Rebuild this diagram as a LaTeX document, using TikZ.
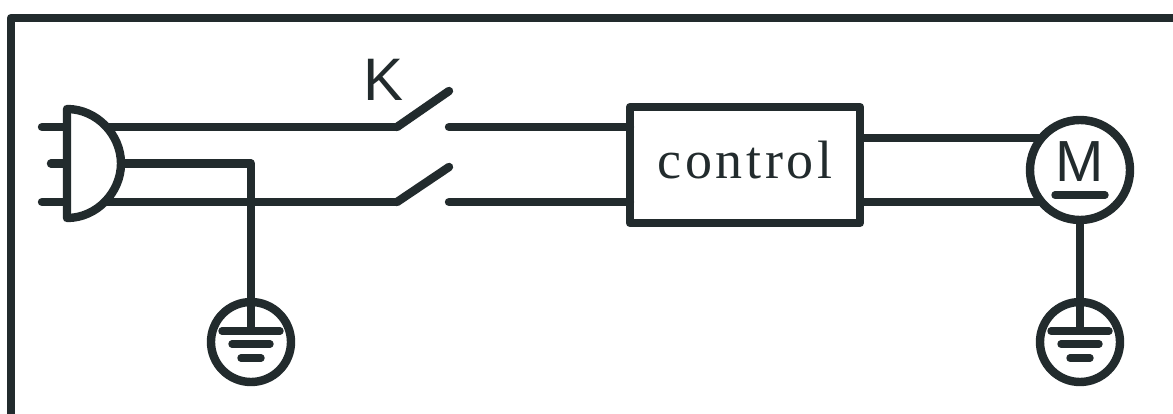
\documentclass[tikz,border=0pt]{standalone}
\usepackage{fontspec}
\setsansfont{Liberation Sans}
\setmainfont{Liberation Serif}
\newcommand{\lsp}{\kern3.6pt }
\definecolor{ink}{HTML}{222B2D}
\tikzset{
  wire/.style={draw=ink,line width=8.4pt,line join=round},
  rwire/.style={wire,line cap=round},
  bar/.style={draw=ink,line width=7.4pt,line cap=round},
  sym/.style={circle,draw=ink,line width=8.4pt,fill=white,inner sep=0pt,outer sep=0pt},
}
\begin{document}
\begin{tikzpicture}[x=1pt,y=-1pt]
\useasboundingbox (0,0) rectangle (1173,414);
\fill[white] (0,0) rectangle (1173,414);
% frame
\coordinate (fa) at (11,414);
\coordinate (fb) at (11,18);
\coordinate (fc) at (1173,18);
\draw[wire] (fa) -- (fb) -- (fc);
% named points
\coordinate (pt) at (67,109);
\coordinate (pb) at (67,218);
\coordinate (ptop) at (95,127);
\coordinate (pmid) at (121,163.5);
\coordinate (pbot) at (95,202);
\coordinate (l1) at (42,127);
\coordinate (l2) at (51,163.5);
\coordinate (l3) at (42,202);
\coordinate (s1a) at (397,127);
\coordinate (s1b) at (449,91);
\coordinate (s2a) at (397,202);
\coordinate (s2b) at (449,167);
\coordinate (c1) at (449,127);
\coordinate (c2) at (449,202);
\coordinate (g1c) at (251,163.5);
% wires
\draw[wire] (ptop) -- (s1a);
\draw[rwire] (s1a) -- (s1b);
\draw[wire] (pbot) -- (s2a);
\draw[rwire] (s2a) -- (s2b);
\draw[rwire] (l1) -- (pt |- l1);
\draw[rwire] (l2) -- (pt |- l2);
\draw[rwire] (l3) -- (pt |- l3);
% control box
\node[draw=ink,line width=8.4pt,line join=round,minimum width=230pt,minimum height=116pt,inner sep=0pt,outer sep=0pt] (ctl) at (745,165) {};
\node[font=\fontsize{54}{54}\selectfont,text=ink,inner sep=0pt,anchor=base] (ctltext) at (745,179) {c\lsp o\lsp n\lsp t\lsp r\lsp o\lsp l};
\draw[rwire] (c1) -- (ctl.west |- c1);
\draw[rwire] (c2) -- (ctl.west |- c2);
% motor
\node[sym,minimum size=100pt] (motor) at (1080,170) {};
\node[font=\sffamily\fontsize{58}{58}\selectfont,text=ink,inner sep=0pt,anchor=base] (mtext) at (1080,182) {M};
\coordinate (ma) at (1055,195);
\coordinate (mb) at (1105,195);
\draw[bar] (ma) -- (mb);
\draw[wire] (ctl.east |- motor.140) -- (motor.140);
\draw[wire] (ctl.east |- motor.220) -- (motor.220);
% grounds
\foreach \n/\x in {g1/251,g2/1080}{
  \node[sym,minimum size=80pt,fill=none] (\n) at (\x,342) {};
  \draw[bar] (\x-29,331) -- (\x+29,331);
  \draw[bar] (\x-19,344) -- (\x+19,344);
  \draw[bar] (\x-10,358) -- (\x+10,358);
}
\draw[wire] (pmid) -- (g1c) -- (g1c |- 0,331);
\draw[wire] (motor.south) -- (motor.south |- 0,331);
% plug body
\draw[wire,fill=white] (pt) .. controls (97,109) and (121,135) .. (121,163.5) .. controls (121,192) and (97,218) .. (pb) -- cycle;
% K
\node[font=\sffamily\fontsize{60}{60}\selectfont,text=ink,inner sep=0pt,anchor=base] (k) at (384,101) {K};
\end{tikzpicture}
\end{document}
